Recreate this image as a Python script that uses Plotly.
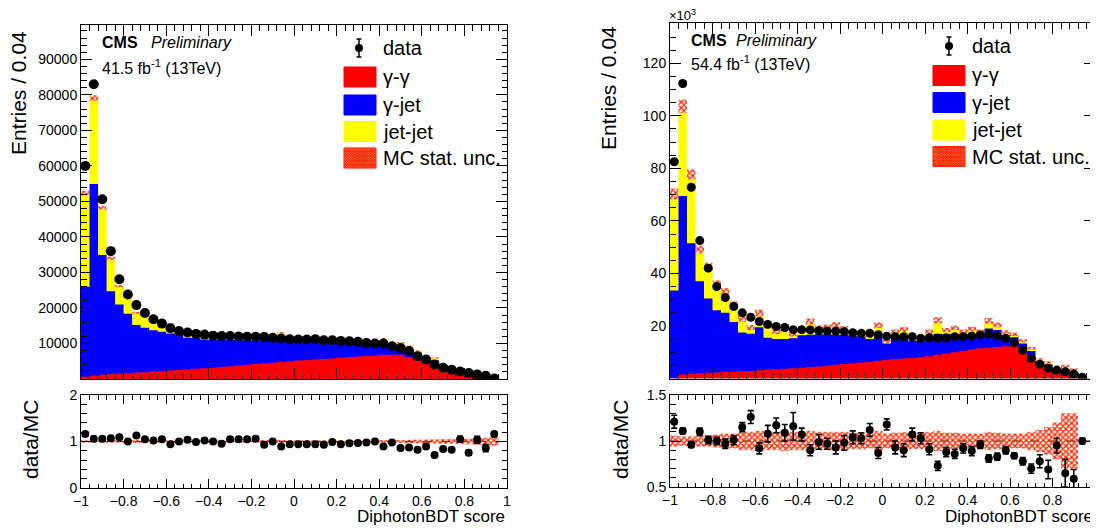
import numpy as np
import plotly.graph_objects as go

# The page body has an 8 px margin; the figure is sized and placed to compensate,
# so the helper functions below take page-pixel coordinates.
PAGE_OFF = 8
W, H = 1090, 521
FONT = "Liberation Sans"


def fx(x):
    return (x - PAGE_OFF) / W


def fy(y):
    return 1 - (y - PAGE_OFF) / H


# ---------------- binning ----------------
edges = np.linspace(-1.0, 1.0, 51)
centers = 0.5 * (edges[:-1] + edges[1:])
x_tickvals = [-1, -0.8, -0.6, -0.4, -0.2, 0, 0.2, 0.4, 0.6, 0.8, 1]

# ---------------- left panel (41.5 fb-1) ----------------
data_L = [60000, 83000, 50600, 36000, 28100, 23800, 20800, 18600, 16800, 15600,
          14300, 13500, 13100, 12700, 12500, 12200, 12100, 12100, 12000, 11900,
          11900, 11800, 11600, 11400, 11200, 11100, 11100, 11200, 10900, 10900,
          10700, 10600, 10500, 10100, 10000, 10000, 9200, 8700, 7900, 6400,
          5500, 4100, 3200, 2600, 2100, 1700, 1300, 900, 150, None]
gg_L = [600, 1000, 1200, 1400, 1500, 1600, 1800, 1900, 2100, 2200,
        2400, 2500, 2700, 2900, 3000, 3200, 3400, 3600, 3800, 4000,
        4200, 4400, 4600, 4800, 5000, 5200, 5300, 5500, 5600, 5800,
        6000, 6200, 6300, 6500, 6600, 6800, 6800, 6800, 6100, 5300,
        4400, 3500, 2800, 2300, 1600, 1400, 1000, 700, 100, 20]
gj_L = [25400, 53900, 33700, 23300, 19500, 16800, 13400, 12500, 11600, 11100,
        10400, 10000, 8900, 8700, 8100, 7900, 7800, 7400, 7200, 6900,
        6700, 6600, 6400, 6200, 6000, 5800, 5800, 5600, 5400, 4900,
        4900, 4500, 4200, 3600, 3200, 3200, 2400, 2800, 2500, 2100,
        1500, 1800, 800, 700, 300, 600, 200, 300, 20, 0]
jj_L = [25700, 23400, 12800, 8900, 4800, 5400, 3200, 3300, 2800, 1600,
        2400, 1000, 1000, 1200, 1200, 1100, 1500, 500, 400, 400,
        300, 1700, 600, 1800, 900, 800, 700, 800, 700, 300,
        500, 300, 300, 200, 200, 1200, 200, 500, 500, 400,
        300, 500, 200, 200, 100, 200, 50, 50, 10, 0]
unc_L = [0.025, 0.02, 0.02, 0.025, 0.025, 0.025, 0.03, 0.025, 0.025, 0.025,
         0.03, 0.025, 0.02, 0.025, 0.025, 0.025, 0.03, 0.02, 0.02, 0.02,
         0.02, 0.03, 0.02, 0.03, 0.025, 0.025, 0.025, 0.025, 0.025, 0.02,
         0.025, 0.02, 0.02, 0.02, 0.02, 0.03, 0.025, 0.03, 0.035, 0.04,
         0.04, 0.045, 0.05, 0.05, 0.055, 0.06, 0.07, 0.08, 0.09, 0.0]
ratio_L = [1.16, 1.06, 1.06, 1.07, 1.09, 1.00, 1.13, 1.05, 1.02, 1.05,
           0.94, 1.00, 1.04, 0.99, 1.02, 1.00, 0.95, 1.05, 1.05, 1.05,
           1.06, 0.93, 1.00, 0.89, 0.94, 0.94, 0.94, 0.94, 0.93, 0.99,
           0.94, 0.96, 0.97, 0.98, 1.00, 0.89, 0.98, 0.86, 0.87, 0.82,
           0.89, 0.71, 0.84, 0.82, 1.05, 0.76, 1.04, 0.86, 1.16, None]
rerr_L = [0.02, 0.01, 0.01, 0.01, 0.01, 0.01, 0.015, 0.01, 0.01, 0.01,
          0.01, 0.01, 0.01, 0.01, 0.01, 0.01, 0.01, 0.01, 0.01, 0.01,
          0.01, 0.01, 0.01, 0.01, 0.01, 0.01, 0.01, 0.01, 0.01, 0.01,
          0.01, 0.01, 0.01, 0.01, 0.01, 0.01, 0.01, 0.01, 0.01, 0.015,
          0.015, 0.02, 0.02, 0.03, 0.06, 0.05, 0.07, 0.08, 0.05, None]

# ---------------- right panel (54.4 fb-1) ----------------
data_R = [82500, 112300, 72800, 52500, 42000, 35000, 30800, 27400, 25000, 23300,
          21700, 20600, 19800, 19400, 18600, 18600, 18500, 18200, 18100, 18100,
          17800, 17400, 17200, 17200, 16700, 16100, 15900, 15900, 15900, 15300,
          15500, 15300, 15500, 15900, 15900, 16200, 16600, 16900, 16200, 15300,
          13600, 10800, 7700, 5400, 3900, 3200, 2600, 1700, 450, None]
gg_R = [300, 1500, 1800, 2000, 2200, 2300, 2500, 2600, 2800, 2900,
        3100, 3300, 3500, 3700, 3900, 4100, 4400, 4600, 4900, 5200,
        5500, 5800, 6100, 6400, 6800, 7100, 7400, 7600, 7800, 8100,
        8500, 9000, 9500, 10000, 10500, 11000, 11500, 11800, 12000, 12300,
        12500, 10500, 7500, 5200, 3600, 2600, 2200, 1400, 300, 50]
gj_R = [33200, 68000, 49700, 35000, 28300, 23700, 22500, 18900, 14700, 14100,
        16400, 12200, 11500, 11300, 11400, 12400, 12300, 12200, 11900, 11500,
        11100, 10500, 9900, 8600, 9200, 6200, 8600, 8400, 6600, 6300,
        7500, 8000, 7300, 6800, 6300, 5800, 5300, 7200, 6500, 4200,
        3200, 2800, 3000, 1300, 1700, 500, 1400, 1200, 100, 0]
jj_R = [34700, 31700, 24300, 10700, 11100, 9000, 6800, 5600, 4200, 1500,
        4100, 3600, 1900, 2800, 700, 900, 3900, 1600, 1900, 2800,
        1600, 400, 700, 400, 3200, 300, 1100, 1700, 500, 500,
        1000, 4000, 800, 1700, 500, 1400, 500, 1900, 1000, 500,
        500, 500, 500, 400, 400, 300, 400, 300, 50, 0]
unc_R = [0.06, 0.05, 0.05, 0.06, 0.06, 0.07, 0.08, 0.08, 0.1, 0.1,
         0.11, 0.1, 0.1, 0.11, 0.1, 0.1, 0.11, 0.1, 0.1, 0.1,
         0.1, 0.09, 0.09, 0.08, 0.11, 0.08, 0.09, 0.1, 0.09, 0.09,
         0.1, 0.11, 0.09, 0.09, 0.08, 0.08, 0.08, 0.1, 0.09, 0.08,
         0.08, 0.08, 0.1, 0.12, 0.15, 0.2, 0.3, 0.3, 0.0, 0.0]
ratio_R = [1.21, 1.11, 0.96, 1.10, 1.01, 1.00, 0.97, 1.01, 1.15, 1.26,
           0.92, 1.08, 1.17, 1.09, 1.16, 1.07, 0.90, 0.99, 0.97, 0.93,
           0.98, 1.04, 1.03, 1.12, 0.87, 1.18, 0.93, 0.90, 1.07, 1.03,
           0.91, 0.73, 0.88, 0.86, 0.92, 0.89, 0.96, 0.81, 0.83, 0.90,
           0.84, 0.78, 0.70, 0.78, 0.69, 0.95, 0.65, 0.59, 1.00, None]
rerr_R = [0.07, 0.03, 0.03, 0.04, 0.04, 0.04, 0.05, 0.05, 0.05, 0.07,
          0.06, 0.09, 0.08, 0.09, 0.15, 0.07, 0.06, 0.08, 0.06, 0.07,
          0.08, 0.07, 0.06, 0.07, 0.06, 0.06, 0.07, 0.07, 0.07, 0.06,
          0.06, 0.05, 0.05, 0.05, 0.05, 0.05, 0.04, 0.04, 0.04, 0.04,
          0.03, 0.04, 0.05, 0.07, 0.1, 0.08, 0.15, 0.1, 0.03, None]

C_GG, C_GJ, C_JJ = "#ff0000", "#0000ff", "#ffff00"
C_HATCH = "#ff2a00"

fig = go.Figure()


def hatch_bar(mc, unc, base_center, xa, ya):
    mc = np.asarray(mc, float)
    u = np.asarray(unc, float)
    half = u * mc if base_center is None else u
    center = mc if base_center is None else np.full_like(mc, base_center)
    return go.Bar(
        x=centers, y=2 * half, base=center - half, width=0.04, opacity=1,
        marker=dict(color="rgba(0,0,0,0)", opacity=1, line=dict(width=0),
                    pattern=dict(shape="x", fgcolor=C_HATCH, fgopacity=1,
                                 bgcolor="rgba(0,0,0,0)", fillmode="replace",
                                 size=4, solidity=0.6)),
        hoverinfo="skip", showlegend=False, xaxis=xa, yaxis=ya)


def add_panel(xm, ym, xr, yr, data, gg, gj, jj, unc, ratio, rerr, msize):
    gg = np.asarray(gg, float)
    gj = np.asarray(gj, float)
    jj = np.asarray(jj, float)
    tops = [(gg + gj + jj, C_JJ), (gg + gj, C_GJ), (gg, C_GG)]
    for vals, col in tops:
        fig.add_trace(go.Scatter(
            x=edges, y=np.append(vals, vals[-1]), mode="lines",
            line=dict(width=0, shape="hv"), fill="tozeroy", fillcolor=col,
            hoverinfo="skip", showlegend=False, xaxis=xm, yaxis=ym))
    mc = gg + gj + jj
    fig.add_trace(hatch_bar(mc, unc, None, xm, ym))
    fig.add_trace(go.Scatter(
        x=centers, y=data, mode="markers",
        marker=dict(color="black", size=msize, line=dict(width=0)),
        showlegend=False, xaxis=xm, yaxis=ym))
    # ratio
    fig.add_trace(hatch_bar(np.ones_like(mc), unc, 1.0, xr, yr))
    errs = [e if e is not None else 0 for e in rerr]
    fig.add_trace(go.Scatter(
        x=centers, y=ratio, mode="markers",
        marker=dict(color="black", size=8, line=dict(width=0)),
        error_y=dict(type="data", array=errs, color="black", thickness=1.6, width=3),
        showlegend=False, xaxis=xr, yaxis=yr))


add_panel("x", "y", "x2", "y2", data_L, gg_L, gj_L, jj_L, unc_L, ratio_L, rerr_L, 10)
add_panel("x3", "y3", "x4", "y4", data_R, gg_R, gj_R, jj_R, unc_R, ratio_R, rerr_R, 9)

tickfont = dict(family=FONT, size=14, color="black")


def xaxis(dom, anchor, labels, tl):
    return dict(domain=dom, anchor=anchor, range=[-1, 1], showgrid=False, zeroline=False,
                automargin=False,
                showline=True, linecolor="black", linewidth=1, mirror="allticks",
                ticks="inside", ticklen=tl, tickwidth=1, tickcolor="black",
                tickmode="array", tickvals=x_tickvals, showticklabels=labels,
                tickfont=tickfont,
                minor=dict(ticks="inside", ticklen=tl / 2, tickwidth=1, tickcolor="black",
                           tickmode="linear", tick0=-1, dtick=0.04, showgrid=False))


def yaxis(dom, anchor, rng, tv, tt, mdt, tl):
    return dict(domain=dom, anchor=anchor, range=rng, showgrid=False, zeroline=False,
                automargin=False,
                showline=True, linecolor="black", linewidth=1, mirror="allticks",
                ticks="inside", ticklen=tl, tickwidth=1, tickcolor="black",
                tickmode="array", tickvals=tv, ticktext=tt, tickfont=tickfont,
                minor=dict(ticks="inside", ticklen=tl / 2, tickwidth=1, tickcolor="black",
                           tickmode="linear", tick0=0, dtick=mdt, showgrid=False))


yL_vals = [10000, 20000, 30000, 40000, 50000, 60000, 70000, 80000, 90000]
yR_vals = [20000, 40000, 60000, 80000, 100000, 120000]

fig.update_layout(
    width=W, height=H, margin=dict(l=0, r=0, t=0, b=0, autoexpand=False),
    paper_bgcolor="white", plot_bgcolor="white", barmode="overlay",
    showlegend=False, font=dict(family=FONT, color="black"),
    xaxis=xaxis([fx(81), fx(507)], "y", False, 11),
    yaxis=yaxis([fy(379), fy(25)], "x", [0, 99660], yL_vals,
                [str(v) for v in yL_vals], 2000, 11),
    xaxis2=xaxis([fx(81), fx(507)], "y2", True, 9),
    yaxis2=yaxis([fy(488), fy(395)], "x2", [0, 2], [0, 1, 2], ["0", "1", "2"], 0.2, 11),
    xaxis3=xaxis([fx(670), fx(1095)], "y3", False, 11),
    yaxis3=yaxis([fy(378.5), fy(23)], "x3", [0, 135340], yR_vals,
                 [str(v // 1000) for v in yR_vals], 5000, 11),
    xaxis4=xaxis([fx(670), fx(1095)], "y4", True, 9),
    yaxis4=yaxis([fy(487), fy(395)], "x4", [0.5, 1.5], [0.5, 1, 1.5], ["0.5", "1", "1.5"], 0.1, 11),
)

# dashed line at ratio = 1
for xr in ("x2", "x4"):
    yr = "y" + xr[1:]
    fig.add_shape(type="line", xref=xr + " domain", yref=yr, x0=0, x1=1, y0=1, y1=1,
                  line=dict(color="black", width=1, dash="dash"), layer="below")

annotations = []


def ann(text, x, y, size, xanchor="left", yanchor="middle", angle=0):
    annotations.append(dict(text=text, x=fx(x), y=fy(y), xref="paper", yref="paper",
                            xanchor=xanchor, yanchor=yanchor, showarrow=False,
                            textangle=angle, font=dict(family=FONT, size=size, color="black")))


# axis titles
ann("Entries / 0.04", 19, 93, 21, "center", "middle", -90)
ann("Entries / 0.04", 608, 88, 21, "center", "middle", -90)
ann("data/MC", 30, 440, 21, "center", "middle", -90)
ann("data/MC", 620, 440, 21, "center", "middle", -90)
ann("DiphotonBDT score", 507, 516, 17, "right", "middle")
ann("DiphotonBDT score", 1095, 516, 17, "right", "middle")
ann("×10<sup>3</sup>", 667, 15, 13, "left", "middle")

# CMS labels
ann("<b>CMS</b>", 100, 42, 16)
ann("<i>Preliminary</i>", 149, 42, 16)
ann("41.5 fb<sup>-1</sup> (13TeV)", 100, 67, 16)
ann("<b>CMS</b>", 689, 40, 16)
ann("<i>Preliminary</i>", 734, 40, 16)
ann("54.4 fb<sup>-1</sup> (13TeV)", 689, 63, 16)


def rect(x0, y0, x1, y1, fill, line):
    fig.add_shape(type="rect", xref="paper", yref="paper", x0=fx(x0), x1=fx(x1),
                  y0=fy(y1), y1=fy(y0), fillcolor=fill, line=dict(color=line, width=1))


def hatch_swatch(x0, y0, x1, y1, s=2.6):
    rect(x0, y0, x1, y1, "white", C_HATCH)
    w, h = x1 - x0, y1 - y0
    parts = []
    for k in np.arange(-h, w, s):
        t0, t1 = max(0, -k), min(h, w - k)
        if t1 > t0:
            parts.append(f"M{fx(x0 + k + t0):.5f},{fy(y0 + t0):.5f}L{fx(x0 + k + t1):.5f},{fy(y0 + t1):.5f}")
    for k in np.arange(s / 2, w + h, s):
        t0, t1 = max(0, k - w), min(h, k)
        if t1 > t0:
            parts.append(f"M{fx(x0 + k - t0):.5f},{fy(y0 + t0):.5f}L{fx(x0 + k - t1):.5f},{fy(y0 + t1):.5f}")
    fig.add_shape(type="path", xref="paper", yref="paper", path="".join(parts),
                  line=dict(color=C_HATCH, width=1.2))


def legend(x_marker, y_data, x_sw0, x_sw1, rows_y, x_text):
    # data entry
    fig.add_shape(type="line", xref="paper", yref="paper", x0=fx(x_marker), x1=fx(x_marker),
                  y0=fy(y_data - 9), y1=fy(y_data + 9), line=dict(color="black", width=1.5))
    for yy in (y_data - 9, y_data + 9):
        fig.add_shape(type="line", xref="paper", yref="paper", x0=fx(x_marker - 2.5),
                      x1=fx(x_marker + 2.5), y0=fy(yy), y1=fy(yy),
                      line=dict(color="black", width=1.5))
    fig.add_shape(type="circle", xref="paper", yref="paper", x0=fx(x_marker - 4),
                  x1=fx(x_marker + 4), y0=fy(y_data + 4), y1=fy(y_data - 4),
                  fillcolor="black", line=dict(color="black", width=0))
    ann("data", x_text, y_data, 20)
    labels = ["γ-γ", "γ-jet", "jet-jet", "MC stat. unc."]
    cols = [C_GG, C_GJ, C_JJ, None]
    for lab, col, yy in zip(labels, cols, rows_y):
        if col is None:
            hatch_swatch(x_sw0, yy - 10, x_sw1, yy + 10)
        else:
            rect(x_sw0, yy - 10, x_sw1, yy + 10, col, col)
        ann(lab, x_text, yy, 20)


legend(359, 48, 344, 376, [77, 105, 131.5, 158], 381)
legend(949, 46, 933, 965, [75.5, 102.5, 130, 156.5], 970)

fig.update_layout(annotations=annotations)
fig.write_html("out.html")
